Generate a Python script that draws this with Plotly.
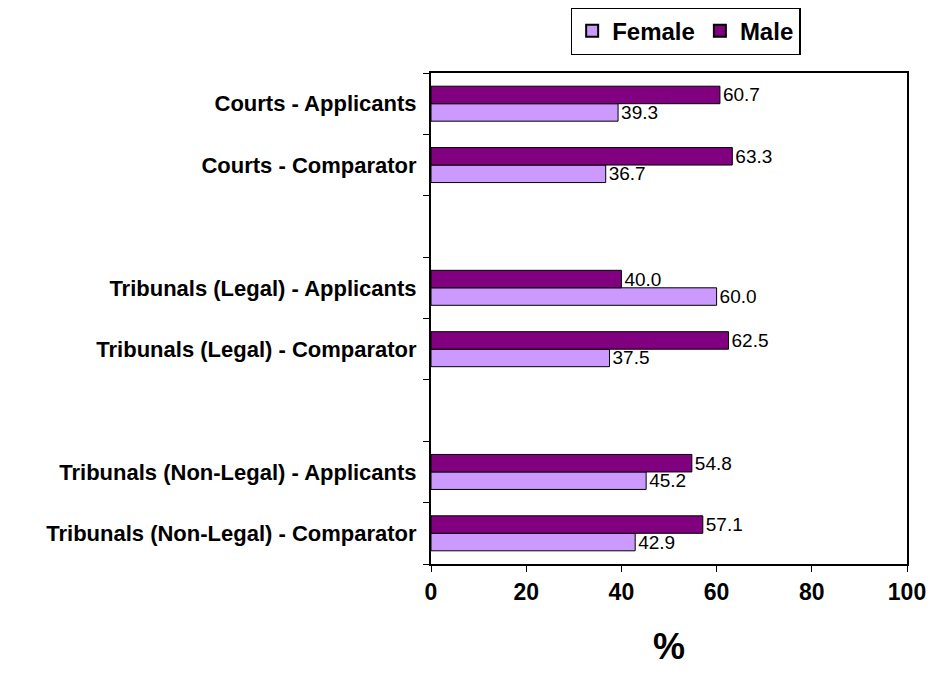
import plotly.graph_objects as go

# categories top to bottom; blank entries are the gaps between groups
categories = ['Courts - Applicants', 'Courts - Comparator', ' ',
              'Tribunals (Legal) - Applicants', 'Tribunals (Legal) - Comparator', '  ',
              'Tribunals (Non-Legal) - Applicants', 'Tribunals (Non-Legal) - Comparator']
female = [39.3, 36.7, None, 60.0, 37.5, None, 45.2, 42.9]
male = [60.7, 63.3, None, 40.0, 62.5, None, 54.8, 57.1]
x_ticks = [0, 20, 40, 60, 80, 100]

# plotly draws categories bottom-up, so reverse everything
cats = categories[::-1]
fem = female[::-1]
mal = male[::-1]

def labels(vals):
    return ['' if v is None else '%.1f' % v for v in vals]

fig = go.Figure()
fig.add_trace(go.Bar(y=cats, x=fem, name='Female', orientation='h',
                     marker=dict(color='#CC99FF', line=dict(color='black', width=1)),
                     text=labels(fem), textposition='outside', cliponaxis=False,
                     constraintext='none',
                     textfont=dict(family='Arial', size=19, color='black')))
fig.add_trace(go.Bar(y=cats, x=mal, name='Male', orientation='h',
                     marker=dict(color='#800080', line=dict(color='black', width=1)),
                     text=labels(mal), textposition='outside', cliponaxis=False,
                     constraintext='none',
                     textfont=dict(family='Arial', size=19, color='black')))

# body has an 8px margin, so the figure is shrunk by that much
fig.update_layout(
    barmode='group',
    bargap=0.43,
    bargroupgap=0,
    width=939, height=667,
    margin=dict(l=423, r=40, t=65, b=111, autoexpand=False),
    paper_bgcolor='white',
    plot_bgcolor='white',
    font=dict(family='Arial', color='black'),
    showlegend=True,
    legend=dict(orientation='h', x=0.535, y=1.134, xanchor='center', yanchor='top',
                bordercolor='black', borderwidth=1.5,
                font=dict(family='Arial', size=24, color='black', weight='bold'),
                itemsizing='constant'),
)

fig.update_xaxes(range=[0, 100], tickvals=x_ticks, showgrid=False, zeroline=False,
                 showline=True, linecolor='black', linewidth=2, mirror=True,
                 ticks='outside', ticklen=6, tickcolor='black',
                 tickfont=dict(family='Arial', size=23, weight='bold'),
                 title=dict(text='%', font=dict(family='Arial', size=36, weight='bold'),
                            standoff=30))
fig.update_yaxes(type='category', categoryorder='array', categoryarray=cats,
                 showgrid=False, showline=True, linecolor='black', linewidth=2, mirror=True,
                 ticks='outside', ticklen=6, tickcolor='black', tickson='boundaries',
                 tickfont=dict(family='Arial', size=22, weight='bold'), ticklabelstandoff=8)

fig.write_html("out.html")
